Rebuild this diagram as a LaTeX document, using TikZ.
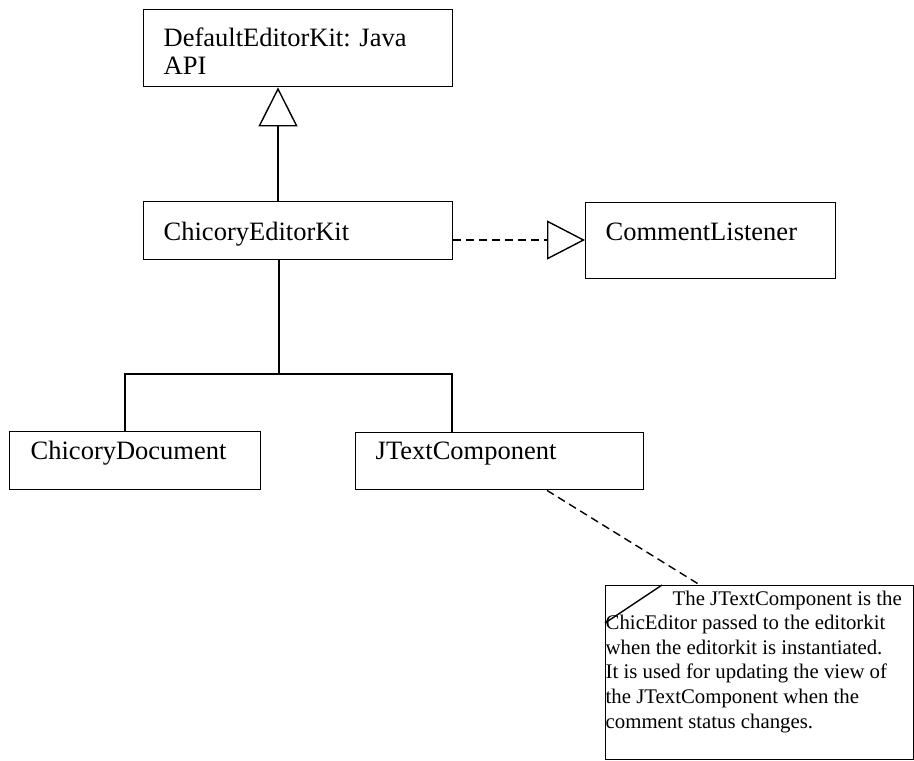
\documentclass[tikz,border=0pt]{standalone}
\usepackage{fontspec}
\setmainfont{Liberation Serif}
\usetikzlibrary{arrows.meta,calc}
\begin{document}
\begin{tikzpicture}[x=1pt,y=-1pt,
  every path/.style={line width=1.4pt},
  classbox/.style={draw, rectangle, inner sep=0pt, anchor=north west, line width=1.4pt},
  lbl/.style={anchor=base west, inner sep=0pt, font=\fontsize{26.5}{28}\selectfont},
  notetext/.style={anchor=base west, inner sep=0pt, font=\fontsize{20.8}{24.6}\selectfont},
  generalize/.style={-{Triangle[open, length=39pt, width=39pt, fill=white]}},
  realize/.style={dash pattern=on 8pt off 5pt, -{Triangle[open, length=38pt, width=39pt, fill=white]}},
  anchorline/.style={dash pattern=on 8pt off 5pt}
]
\useasboundingbox (0,0) rectangle (914,761);

% class boxes
\node[classbox, minimum width=309pt, minimum height=77pt] (dek) at (143,9) {};
\node[classbox, minimum width=309pt, minimum height=58pt] (cek) at (143,201) {};
\node[classbox, minimum width=250pt, minimum height=76pt] (cl) at (585,202) {};
\node[classbox, minimum width=251pt, minimum height=58pt] (cdoc) at (9,431) {};
\node[classbox, minimum width=288pt, minimum height=57pt] (jtc) at (355,432) {};

% class names
\node[lbl] (dekt) at (163,46) {\parbox[t]{300pt}{DefaultEditorKit: Java\\API}};
\node[lbl] (cekt) at (163,240) {ChicoryEditorKit};
\node[lbl] (clt) at (605,240) {CommentListener};
\node[lbl] (cdoct) at (30,459) {ChicoryDocument};
\node[lbl] (jtct) at (375,459) {JTextComponent};

% note with folded corner
\node[classbox, minimum width=308pt, minimum height=174pt] (note) at (605,585) {};
\draw ($(note.north west)+(0,38)$) -- ($(note.north west)+(57,0)$);
\node[notetext] (notet) at (605,605) {\parbox[t]{306pt}{\raggedright
  \hspace*{67pt}The JTextComponent is the\\
  ChicEditor passed to the editorkit\\
  when the editorkit is instantiated.\\
  It is used for updating the view of\\
  the JTextComponent when the\\
  comment status changes.}};

% helper coordinates for connector positions
\coordinate (gx) at (278,0);
\coordinate (tx) at (279,0);
\coordinate (ry) at (0,240);
\coordinate (by) at (0,374);
\coordinate (lx) at (125,0);
\coordinate (rx) at (452,0);
\coordinate (nx) at (547,0);
\coordinate (ny) at (700,0);

% generalization
\draw[generalize] (cek.north -| gx) -- (dek.south -| gx);

% realization
\draw[realize] (cek.east |- ry) -- (cl.west |- ry);

% composition tree
\draw (cek.south -| tx) -- (tx |- by);
\draw (cdoc.north -| lx) -- (lx |- by) -- (rx |- by) -- (jtc.north -| rx);

% note anchor
\draw[anchorline] (jtc.south -| nx) -- (note.north -| ny);
\end{tikzpicture}
\end{document}
